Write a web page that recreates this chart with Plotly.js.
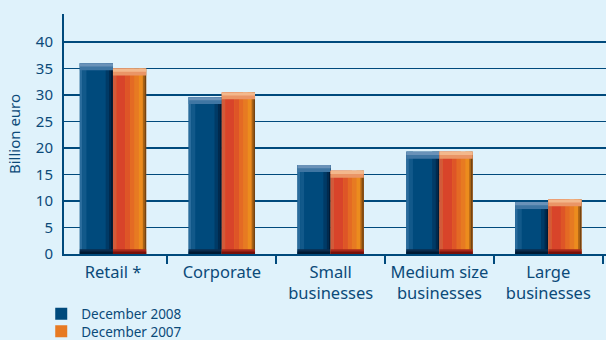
<!DOCTYPE html>
<html>
<head>
<meta charset="utf-8">
<script src="https://cdn.plot.ly/plotly-3.0.1.min.js"></script>
<style>
html,body{margin:0;padding:0;background:#dff2fb;}
#chart{width:606px;height:340px;}
</style>
</head>
<body>
<div id="chart"></div>
<script>
var categories = ['Retail *', 'Corporate', 'Small<br>businesses', 'Medium size<br>businesses', 'Large<br>businesses'];
var dec2008 = [36.0, 29.6, 16.8, 19.3, 9.8];
var dec2007 = [35.0, 30.5, 15.7, 19.3, 10.3];
var seriesNames = ['December 2008', 'December 2007'];

var BW = 0.305;
function strip(vals, offset, width, color, name, legendId) {
  var t = {
    type: 'bar', x: categories, y: vals, name: name,
    offset: offset, width: width,
    marker: {color: color, line: {width: 0}},
    showlegend: !!legendId, hoverinfo: 'skip'
  };
  if (legendId) t.legend = legendId;
  return t;
}
function band(vals, offset, width, color, fromTop, h) {
  var base = vals.map(function(v){ return fromTop ? v - h : 0; });
  var hs = vals.map(function(){ return h; });
  return {
    type: 'bar', x: categories, y: hs, base: base,
    offset: offset, width: width,
    marker: {color: color, line: {width: 0}},
    showlegend: false, hoverinfo: 'skip'
  };
}

var traces = [];
// December 2008 (blue)
var bo = -BW;
traces.push(strip(dec2008, bo, BW, '#004a7c', seriesNames[0], 'legend'));
traces.push(strip(dec2008, bo, BW*0.08, '#2a6c9c'));
traces.push(strip(dec2008, bo + BW*0.08, BW*0.12, '#12598a'));
traces.push(strip(dec2008, bo + BW*0.78, BW*0.10, '#003a66'));
traces.push(strip(dec2008, bo + BW*0.88, BW*0.06, '#002a4e'));
traces.push(strip(dec2008, bo + BW*0.94, BW*0.06, '#001a36'));
traces.push(band(dec2008, bo, BW, '#3f76a3', true, 1.3));
traces.push(band(dec2008, bo, BW, '#6a92b8', true, 0.6));
traces.push(band(dec2008, bo, BW, '#0a2c4e', false, 0.9));
traces.push(band(dec2008, bo, BW, '#001a33', false, 0.45));

// December 2007 (orange)
var oo = 0;
traces.push(strip(dec2007, oo, BW, '#e77a22', seriesNames[1], 'legend2'));
traces.push(strip(dec2007, oo, BW*0.10, '#d25a3a'));
traces.push(strip(dec2007, oo + BW*0.10, BW*0.28, '#d8442a'));
traces.push(strip(dec2007, oo + BW*0.38, BW*0.14, '#de5527'));
traces.push(strip(dec2007, oo + BW*0.52, BW*0.12, '#e46a24'));
traces.push(strip(dec2007, oo + BW*0.78, BW*0.12, '#ec8c1e'));
traces.push(strip(dec2007, oo + BW*0.90, BW*0.05, '#a86414'));
traces.push(strip(dec2007, oo + BW*0.95, BW*0.05, '#744410'));
traces.push(band(dec2007, oo, BW, '#ea9566', true, 1.3));
traces.push(band(dec2007, oo, BW, '#f3b88c', true, 0.6));
traces.push(band(dec2007, oo, BW, '#a8281a', false, 0.9));
traces.push(band(dec2007, oo, BW, '#7a1008', false, 0.45));

var fontFam = '"Noto Sans", "Open Sans", sans-serif';
var blue = '#0b4a79';

function legendAt(yCenter) {
  return {
    x: -0.042, xanchor: 'left', y: yCenter, yanchor: 'middle',
    orientation: 'v',
    font: {size: 13.5, color: blue, family: fontFam},
    bgcolor: 'rgba(0,0,0,0)', tracegroupgap: 0,
    itemwidth: 30
  };
}

var layout = {
  width: 606, height: 340,
  paper_bgcolor: '#dff2fb', plot_bgcolor: '#dff2fb',
  margin: {l: 64, r: 0, t: 14, b: 86, autoexpand: false},
  barmode: 'overlay',
  font: {family: fontFam, color: blue},
  xaxis: {
    type: 'category',
    range: [-0.45, 4.53],
    showline: true, linecolor: '#004a7c', linewidth: 2,
    ticks: 'outside', tickson: 'boundaries', ticklen: 8, tickwidth: 2, tickcolor: '#004a7c',
    showgrid: false,
    tickfont: {size: 16.5, color: blue, family: fontFam},
    ticklabelstandoff: 2,
    fixedrange: true
  },
  yaxis: {
    range: [0, 45.3],
    tickvals: [0, 5, 10, 15, 20, 25, 30, 35, 40],
    ticktext: ['0', '5', '10', '15', '20', '25', '30', '35', '40'],
    showline: true, linecolor: '#004a7c', linewidth: 2,
    showgrid: true, gridcolor: '#004a7c', gridwidth: 1.5,
    zeroline: false,
    ticks: '', ticklabelstandoff: 6,
    tickfont: {size: 15, color: blue, family: fontFam},
    title: {text: 'Billion euro', font: {size: 15, color: blue, family: fontFam}, standoff: 12},
    fixedrange: true
  },
  legend: legendAt(-(314 - 254) / 240),
  legend2: legendAt(-(331.5 - 254) / 240),
  showlegend: true
};

Plotly.newPlot('chart', traces, layout, {displayModeBar: false, staticPlot: true});
</script>
</body>
</html>
